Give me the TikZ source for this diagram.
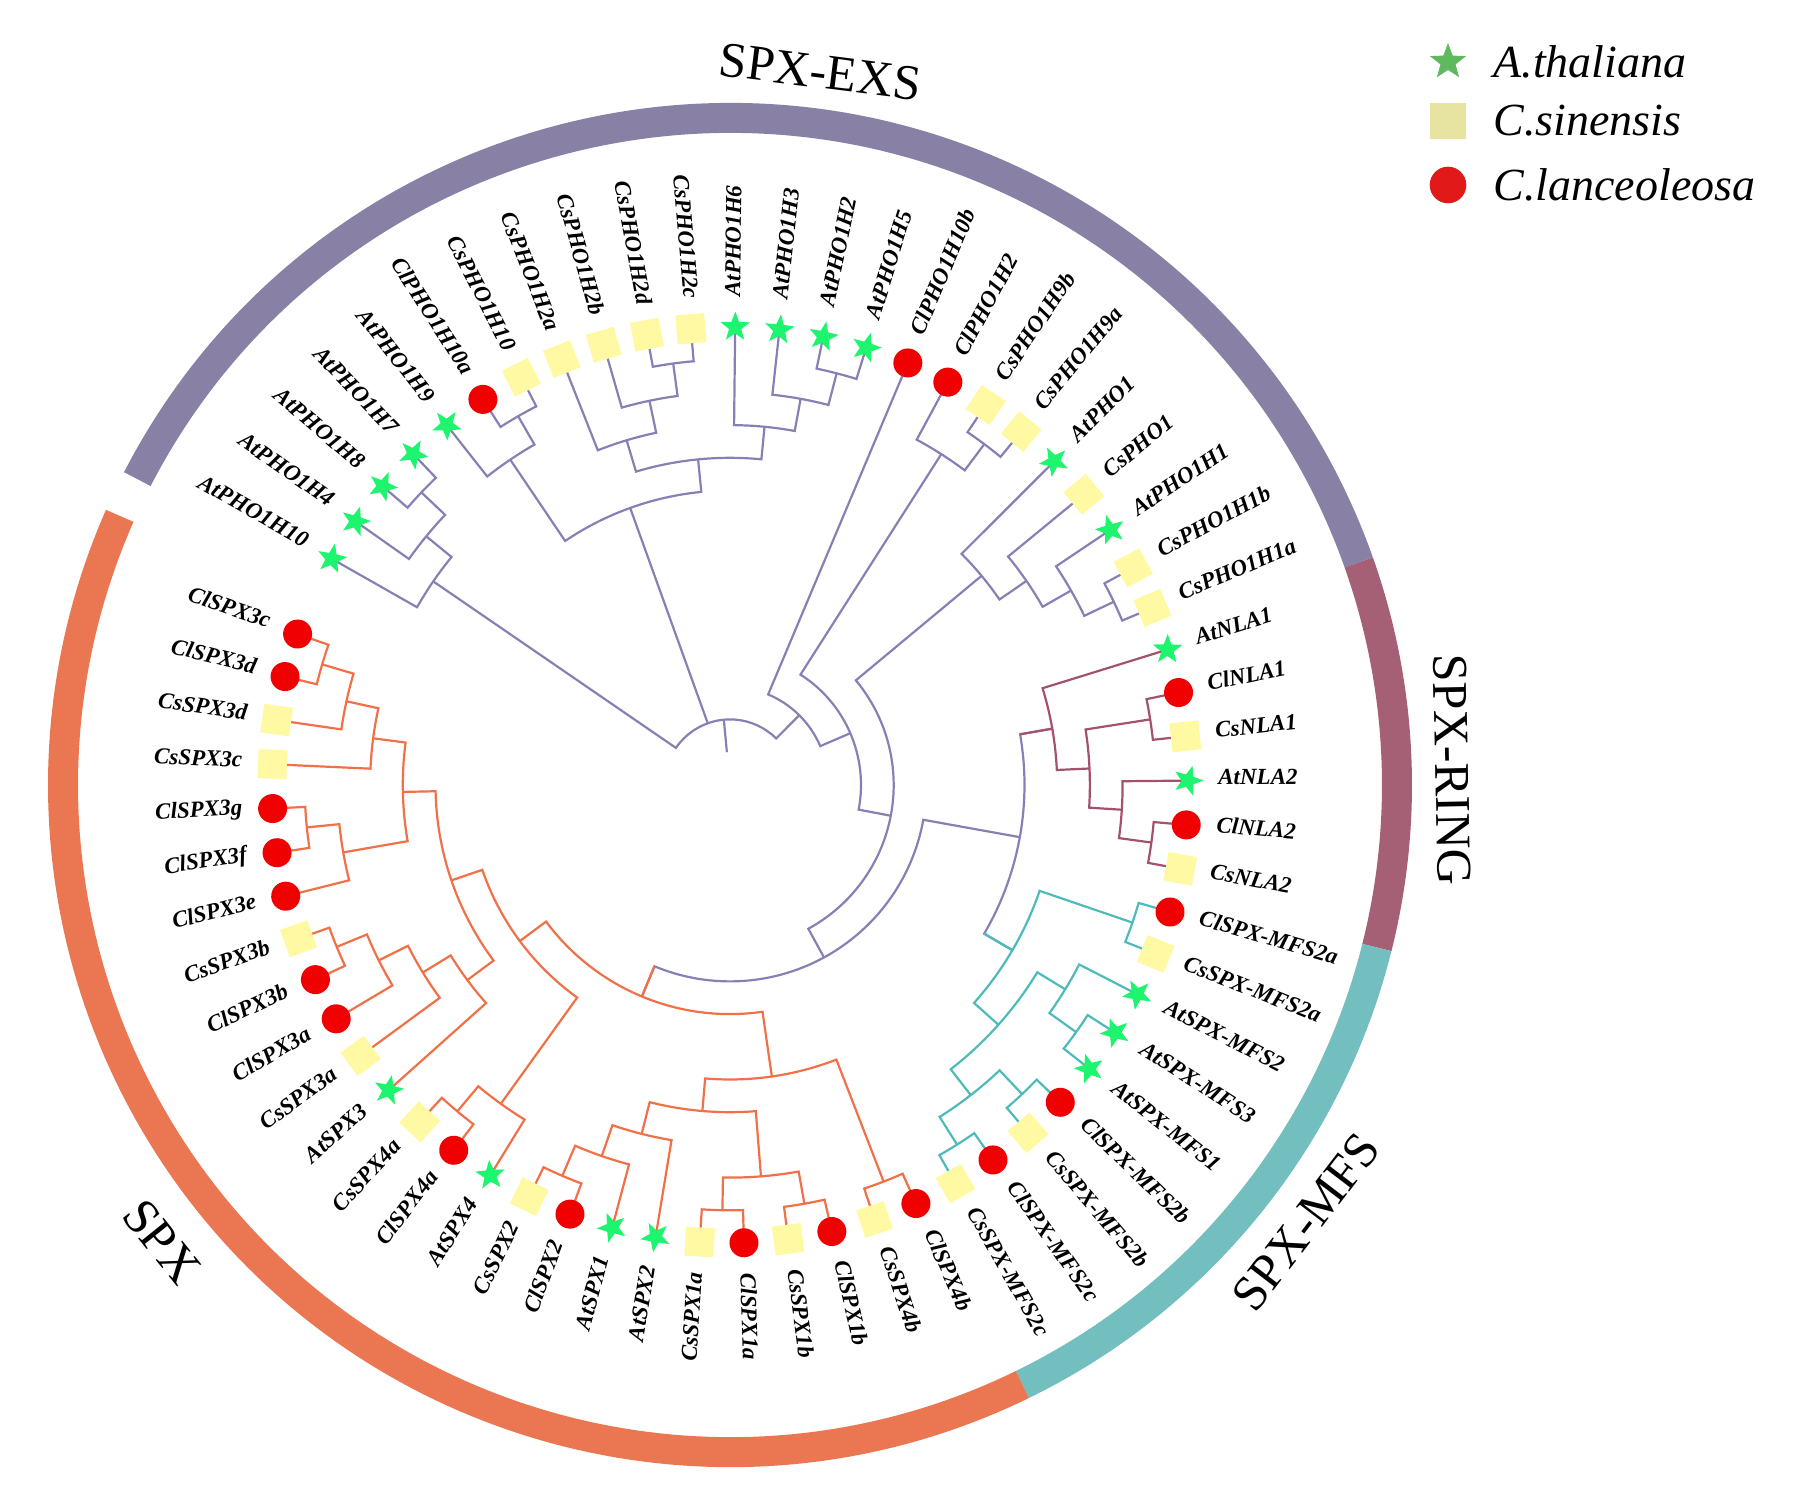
\documentclass[tikz,border=0pt]{standalone}
\usepackage{fontspec}
\setmainfont{Liberation Serif}
\usetikzlibrary{shapes.geometric}

\definecolor{exsband}{RGB}{137,128,166}
\definecolor{ringband}{RGB}{166,96,118}
\definecolor{mfsband}{RGB}{115,190,190}
\definecolor{spxband}{RGB}{235,118,82}
\definecolor{exsline}{RGB}{134,129,180}
\definecolor{ringline}{RGB}{163,82,110}
\definecolor{mfsline}{RGB}{78,186,186}
\definecolor{spxline}{RGB}{240,112,72}
\definecolor{atgreen}{RGB}{30,245,110}
\definecolor{csyellow}{RGB}{255,249,163}
\definecolor{clred}{RGB}{240,0,0}

% one internal node: stem to child 1, arc, stem to child 2
% #1 height, #2 pos child 1, #3 height child 1, #4 pos child 2, #5 height child 2
\newcommand{\nd}[5]{%
  \draw ({posang(#2)}:{hrad(#3)}) -- ({posang(#2)}:{hrad(#1)})
    arc[start angle={posang(#2)}, end angle={posang(#4)}, radius={hrad(#1)}]
    -- ({posang(#4)}:{hrad(#5)});}
\newcommand{\stem}[3]{%
  \draw ({posang(#1)}:{hrad(#2)}) -- ({posang(#1)}:{hrad(#3)});}

\begin{document}
\begin{tikzpicture}[x=0.5pt,y=0.5pt,
  declare function={posang(\p)=155.95-5.55*\p; hrad(\h)=458-32.7*\h;}]
  \tikzset{
    band/.style={line width=15pt},
    spat/.style={star, star points=5, star point ratio=2.4, fill=atgreen,
      minimum size=15.5pt, inner sep=0pt},
    spcs/.style={rectangle, fill=csyellow, minimum size=14.5pt, inner sep=0pt},
    spcl/.style={circle, fill=clred, minimum size=14.5pt, inner sep=0pt},
    lab/.style={font=\fontsize{11.5}{13}\selectfont\bfseries\itshape, inner sep=0pt},
    clade/.style={font=\fontsize{25}{30}\selectfont, inner sep=0pt},
    legtext/.style={font=\fontsize{23}{28}\selectfont\itshape, inner sep=0pt}
  }
  \useasboundingbox (-730,-725) rectangle (1074,785);

  % SPX-EXS and backbone
  \begin{scope}[color=exsline, line width=1.1pt]
    \nd{1}{3}{0}{4}{0}
    \nd{2}{2}{0}{3.5}{1}
    \nd{3}{1}{0}{2.75}{2}
    \nd{1}{6}{0}{7}{0}
    \nd{2}{5}{0}{6.5}{1}
    \nd{1}{10}{0}{11}{0}
    \nd{2}{9}{0}{10.5}{1}
    \nd{3}{8}{0}{9.75}{2}
    \nd{1}{14}{0}{15}{0}
    \nd{2}{13}{0}{14.5}{1}
    \nd{3}{12}{0}{13.75}{2}
    \nd{4}{8.875}{3}{12.875}{3}
    \nd{5}{5.75}{2}{10.875}{4}
    \nd{1}{18}{0}{19}{0}
    \nd{2}{17}{0}{18.5}{1}
    \nd{1}{23}{0}{24}{0}
    \nd{2}{22}{0}{23.5}{1}
    \nd{3}{21}{0}{22.75}{2}
    \nd{4}{20}{0}{21.875}{3}
    \nd{5}{26.3125}{4}{33.5625}{4}
    \nd{8}{29.9375}{5}{48.390625}{7}
    \nd{9}{20.9375}{4}{39.1640625}{8}
    \nd{10}{17.75}{2}{30.05078125}{9}
    \nd{11}{16}{0}{23.900390625}{10}
    \nd{12}{1.875}{3}{19.9501953125}{11}
    \stem{8.3125}{12}{5}
    \stem{10.9126}{12}{13}
  \end{scope}

  % SPX-RING
  \begin{scope}[color=ringline, line width=1.1pt]
    \nd{1}{26}{0}{27}{0}
    \nd{1}{29}{0}{30}{0}
    \nd{2}{28}{0}{29.5}{1}
    \nd{3}{26.5}{1}{28.75}{2}
    \nd{4}{25}{0}{27.625}{3}
    \stem{26.3125}{4}{5}
  \end{scope}

  % SPX-MFS
  \begin{scope}[color=mfsline, line width=1.1pt]
    \nd{1}{31}{0}{32}{0}
    \nd{1}{34}{0}{35}{0}
    \nd{2}{33}{0}{34.5}{1}
    \nd{1}{36}{0}{37}{0}
    \nd{1}{38}{0}{39}{0}
    \nd{2}{36.5}{1}{38.5}{1}
    \nd{3}{33.75}{2}{37.5}{2}
    \nd{4}{31.5}{1}{35.625}{3}
    \stem{33.5625}{4}{5}
  \end{scope}

  % SPX
  \begin{scope}[color=spxline, line width=1.1pt]
    \nd{1}{40}{0}{41}{0}
    \nd{1}{42}{0}{43}{0}
    \nd{1}{44}{0}{45}{0}
    \nd{2}{42.5}{1}{44.5}{1}
    \nd{1}{48}{0}{49}{0}
    \nd{2}{47}{0}{48.5}{1}
    \nd{3}{46}{0}{47.75}{2}
    \nd{4}{43.5}{2}{46.875}{3}
    \nd{5}{40.5}{1}{45.1875}{4}
    \nd{1}{51}{0}{52}{0}
    \nd{2}{50}{0}{51.5}{1}
    \nd{1}{56}{0}{57}{0}
    \nd{2}{55}{0}{56.5}{1}
    \nd{3}{54}{0}{55.75}{2}
    \nd{4}{53}{0}{54.875}{3}
    \nd{1}{63}{0}{64}{0}
    \nd{2}{62}{0}{63.5}{1}
    \nd{3}{61}{0}{62.75}{2}
    \nd{1}{59}{0}{60}{0}
    \nd{2}{58}{0}{59.5}{1}
    \nd{4}{58.75}{2}{61.875}{3}
    \nd{5}{53.9375}{4}{60.3125}{4}
    \nd{6}{50.75}{2}{57.125}{5}
    \nd{7}{42.84375}{5}{53.9375}{6}
    \stem{48.390625}{7}{8}
  \end{scope}

  % outer bands
  \draw[band, exsband] (152.7:667) arc[start angle=152.7, end angle=19.5, radius=667];
  \draw[band, ringband] (19.5:667) arc[start angle=19.5, end angle=-14.1, radius=667];
  \draw[band, mfsband] (-14.1:667) arc[start angle=-14.1, end angle=-64, radius=667];
  \draw[band, spxband] (-64:667) arc[start angle=-64, end angle=-203.8, radius=667];

  \node[clade, rotate=-7.2] (exsname) at (82.8:719) {SPX-EXS};
  \node[clade, rotate=-88.8] (ringname) at (1.2:722) {SPX-RING};
  \node[clade, rotate=52.6] (mfsname) at (-37.2:723) {SPX-MFS};
  \node[clade, rotate=-51.2] (spxname) at (-141.2:729) {SPX};

  % leaves
  \foreach \i/\nm/\sp in {
    1/AtPHO1H10/at, 2/AtPHO1H4/at, 3/AtPHO1H8/at, 4/AtPHO1H7/at, 5/AtPHO1H9/at,
    6/ClPHO1H10a/cl, 7/CsPHO1H10/cs, 8/CsPHO1H2a/cs, 9/CsPHO1H2b/cs,
    10/CsPHO1H2d/cs, 11/CsPHO1H2c/cs,
    12/AtPHO1H6/at, 13/AtPHO1H3/at, 14/AtPHO1H2/at, 15/AtPHO1H5/at,
    16/ClPHO1H10b/cl, 17/ClPHO1H2/cl, 18/CsPHO1H9b/cs, 19/CsPHO1H9a/cs,
    20/AtPHO1/at, 21/CsPHO1/cs, 22/AtPHO1H1/at, 23/CsPHO1H1b/cs, 24/CsPHO1H1a/cs,
    25/AtNLA1/at, 26/ClNLA1/cl, 27/CsNLA1/cs, 28/AtNLA2/at, 29/ClNLA2/cl, 30/CsNLA2/cs,
    31/ClSPX-MFS2a/cl, 32/CsSPX-MFS2a/cs, 33/AtSPX-MFS2/at, 34/AtSPX-MFS3/at,
    35/AtSPX-MFS1/at, 36/ClSPX-MFS2b/cl, 37/CsSPX-MFS2b/cs, 38/ClSPX-MFS2c/cl,
    39/CsSPX-MFS2c/cs,
    40/ClSPX4b/cl, 41/CsSPX4b/cs, 42/ClSPX1b/cl, 43/CsSPX1b/cs, 44/ClSPX1a/cl,
    45/CsSPX1a/cs, 46/AtSPX2/at, 47/AtSPX1/at, 48/ClSPX2/cl, 49/CsSPX2/cs,
    50/AtSPX4/at, 51/ClSPX4a/cl, 52/CsSPX4a/cs, 53/AtSPX3/at, 54/CsSPX3a/cs,
    55/ClSPX3a/cl, 56/ClSPX3b/cl, 57/CsSPX3b/cs, 58/ClSPX3e/cl, 59/ClSPX3f/cl,
    60/ClSPX3g/cl, 61/CsSPX3c/cs, 62/CsSPX3d/cs, 63/ClSPX3d/cl, 64/ClSPX3c/cl} {
    \pgfmathsetmacro{\lang}{posang(\i)}
    \pgfmathtruncatemacro{\rside}{(\lang>-90)*(\lang<90)}
    \node[sp\sp, rotate=\lang-90] (lf\i) at (\lang:458) {};
    \ifnum\rside=1
      \node[lab, anchor=mid west, rotate=\lang] (lb\i) at (\lang:488) {\nm};
    \else
      \node[lab, anchor=mid east, rotate=\lang+180] (lb\i) at (\lang:488) {\nm};
    \fi
  }

  % legend
  \node[spat, fill={rgb,255:red,95;green,185;blue,95}, minimum size=19pt] (kat) at (718,723) {};
  \node[spcs, fill={rgb,255:red,230;green,228;blue,160}, minimum size=18.3pt] (kcs) at (718,664) {};
  \node[spcl, fill={rgb,255:red,225;green,25;blue,25}, minimum size=18.3pt] (kcl) at (718,600) {};
  \node[legtext, anchor=west] (tat) at ([xshift=22.5pt]kat.center) {A.thaliana};
  \node[legtext, anchor=west] (tcs) at ([xshift=22.5pt]kcs.center) {C.sinensis};
  \node[legtext, anchor=west] (tcl) at ([xshift=22.5pt]kcl.center) {C.lanceoleosa};
\end{tikzpicture}
\end{document}
